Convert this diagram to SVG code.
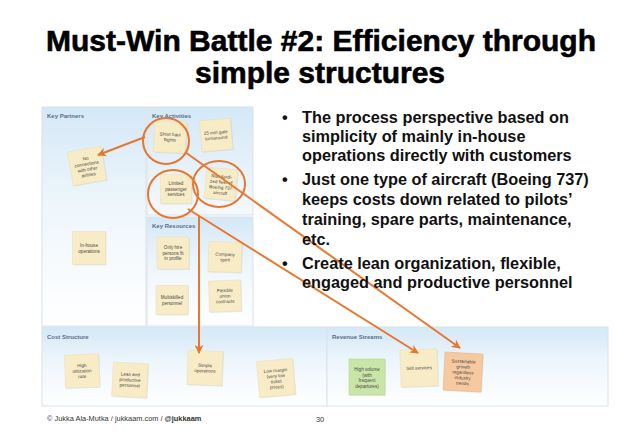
<svg xmlns="http://www.w3.org/2000/svg" width="638" height="442" viewBox="0 0 638 442">
<defs>
<linearGradient id="pg" x1="0" y1="0" x2="0" y2="1">
<stop offset="0" stop-color="#d4e8f6"/><stop offset="0.45" stop-color="#eef6fc"/><stop offset="1" stop-color="#ffffff"/>
</linearGradient>
<linearGradient id="pg2" x1="0" y1="0" x2="0" y2="1">
<stop offset="0" stop-color="#d4e8f6"/><stop offset="1" stop-color="#f4f9fd"/>
</linearGradient>
<marker id="ah" viewBox="0 0 10 10" refX="9" refY="5" markerWidth="9" markerHeight="9" markerUnits="userSpaceOnUse" orient="auto">
<path d="M0,0 L10,5 L0,10 L3,5 z" fill="#e8772e"/>
</marker>
<style>
.panel{stroke:#d9e2ea;stroke-width:1}
.ph{font-family:"Liberation Sans",Arial,sans-serif;font-size:6px;font-weight:bold;fill:#5b6f8c}
.note{fill:#f8ecc6;stroke:#ebdfb8;stroke-width:0.6}
.sh{fill:#000;opacity:0.07}
.nt{font-family:"Liberation Sans",Arial,sans-serif;font-size:4.6px;fill:#4a4a4a;text-anchor:middle}
.conn{stroke:#e8772e;stroke-width:2;fill:none}
.ring{stroke:#e8772e;stroke-width:2;fill:none}
.title{font-family:"Liberation Sans",Arial,sans-serif;font-size:30px;font-weight:bold;fill:#000;stroke:#000;stroke-width:0.6;text-anchor:middle}
.bl{font-family:"Liberation Sans",Arial,sans-serif;font-size:16.3px;font-weight:bold;fill:#111}
.ft{font-family:"Liberation Sans",Arial,sans-serif;font-size:7.4px;fill:#333}
</style>
</defs>
<rect width="638" height="442" fill="#ffffff"/>
<g id="title">
<text class="title" x="321" y="51" textLength="550" lengthAdjust="spacingAndGlyphs">Must-Win Battle #2: Efficiency through</text>
<text class="title" x="320" y="83">simple structures</text>
</g>
<g id="panels">
<g id="key-partners"><rect class="panel" x="42" y="107" width="104" height="219" fill="url(#pg)"/><text class="ph" x="47" y="118">Key Partners</text></g>
<g id="key-activities"><rect class="panel" x="147" y="107" width="106" height="108" fill="url(#pg2)"/><text class="ph" x="152" y="118">Key Activities</text></g>
<g id="key-resources"><rect class="panel" x="147" y="217" width="106" height="109" fill="url(#pg)"/><text class="ph" x="152" y="228">Key Resources</text></g>
<g id="cost-structure"><rect class="panel" x="42" y="327" width="285" height="79" fill="url(#pg)"/><text class="ph" x="47" y="339">Cost Structure</text></g>
<g id="revenue-streams"><rect class="panel" x="327" y="327" width="281" height="79" fill="url(#pg)"/><text class="ph" x="332" y="339">Revenue Streams</text></g>
</g>
<g id="notes">
<g id="n-noconn" transform="translate(87,166) rotate(-10)"><rect class="sh" x="-16" y="-16" width="34" height="34"/><rect class="note" x="-17" y="-17" width="34" height="34"/><text class="nt" y="-6">No</text><text class="nt" y="-0.5">connections</text><text class="nt" y="5">with other</text><text class="nt" y="10.5">airlines</text></g>
<g id="n-inhouse" transform="translate(89,248)"><rect class="sh" x="-15.5" y="-15.5" width="33" height="33"/><rect class="note" x="-16.5" y="-16.5" width="33" height="33"/><text class="nt" y="-1">In-house</text><text class="nt" y="4.5">operations</text></g>
<g id="n-shorthaul" transform="translate(170,137) rotate(3)"><rect class="sh" x="-15" y="-14.5" width="32" height="31"/><rect class="note" x="-16" y="-15.5" width="32" height="31"/><text class="nt" y="-1">Short haul</text><text class="nt" y="4.5">flights</text></g>
<g id="n-gate" transform="translate(216,135) rotate(-5)"><rect class="sh" x="-14.5" y="-14.5" width="31" height="31"/><rect class="note" x="-15.5" y="-15.5" width="31" height="31"/><text class="nt" y="-1">25 min gate</text><text class="nt" y="4.5">turnaround</text></g>
<g id="n-fleet" transform="translate(221,184) rotate(5)"><rect class="sh" x="-14.5" y="-14.5" width="31" height="31"/><rect class="note" x="-15.5" y="-15.5" width="31" height="31"/><text class="nt" y="-6">Standardi-</text><text class="nt" y="-0.5">zed fleet of</text><text class="nt" y="5">Boeing 737</text><text class="nt" y="10.5">aircraft</text></g>
<g id="n-limited" transform="translate(176,189)"><rect class="sh" x="-14.5" y="-13.5" width="31" height="29"/><rect class="note" x="-15.5" y="-14.5" width="31" height="29"/><text class="nt" y="-4">Limited</text><text class="nt" y="1.5">passenger</text><text class="nt" y="7">services</text></g>
<g id="n-hire" transform="translate(173,253)"><rect class="sh" x="-15" y="-15" width="32" height="32"/><rect class="note" x="-16" y="-16" width="32" height="32"/><text class="nt" y="-4">Only hire</text><text class="nt" y="1.5">persons fit</text><text class="nt" y="7">in profile</text></g>
<g id="n-spirit" transform="translate(225,257) rotate(2)"><rect class="sh" x="-15.5" y="-14" width="33" height="30"/><rect class="note" x="-16.5" y="-15" width="33" height="30"/><text class="nt" y="-1">Company</text><text class="nt" y="4.5">spirit</text></g>
<g id="n-multi" transform="translate(172,300)"><rect class="sh" x="-15" y="-13.5" width="32" height="29"/><rect class="note" x="-16" y="-14.5" width="32" height="29"/><text class="nt" y="-1">Multiskilled</text><text class="nt" y="4.5">personnel</text></g>
<g id="n-union" transform="translate(225,296) rotate(-2)"><rect class="sh" x="-15" y="-14.5" width="32" height="31"/><rect class="note" x="-16" y="-15.5" width="32" height="31"/><text class="nt" y="-4">Flexible</text><text class="nt" y="1.5">union</text><text class="nt" y="7">contracts</text></g>
<g id="n-util" transform="translate(82,371) rotate(-2)"><rect class="sh" x="-16" y="-15.5" width="34" height="33"/><rect class="note" x="-17" y="-16.5" width="34" height="33"/><text class="nt" y="-4">High</text><text class="nt" y="1.5">utilization</text><text class="nt" y="7">rate</text></g>
<g id="n-lean" transform="translate(130,380) rotate(3)"><rect class="sh" x="-16.5" y="-16" width="35" height="34"/><rect class="note" x="-17.5" y="-17" width="35" height="34"/><text class="nt" y="-4">Lean and</text><text class="nt" y="1.5">productive</text><text class="nt" y="7">personnel</text></g>
<g id="n-simple" transform="translate(205,368) rotate(2)"><rect class="sh" x="-16.5" y="-16" width="35" height="34"/><rect class="note" x="-17.5" y="-17" width="35" height="34"/><text class="nt" y="-1">Simple</text><text class="nt" y="4.5">operations</text></g>
<g id="n-margin" transform="translate(276,378) rotate(-5)"><rect class="sh" x="-17" y="-17" width="36" height="36"/><rect class="note" x="-18" y="-18" width="36" height="36"/><text class="nt" y="-6">Low margin</text><text class="nt" y="-0.5">(very low</text><text class="nt" y="5">ticket</text><text class="nt" y="10.5">prices)</text></g>
<g id="n-volume" transform="translate(367,377)"><rect class="sh" x="-17" y="-17" width="36" height="36"/><rect x="-18" y="-18" width="36" height="36" fill="#c9e6a8" stroke="#b5d695" stroke-width="0.6"/><text class="nt" y="-6">High volume</text><text class="nt" y="-0.5">(with</text><text class="nt" y="5">frequent</text><text class="nt" y="10.5">departures)</text></g>
<g id="n-sell" transform="translate(419,368) rotate(-2)"><rect class="sh" x="-17.5" y="-17.5" width="37" height="37"/><rect class="note" x="-18.5" y="-18.5" width="37" height="37"/><text class="nt" y="1.5">Sell services</text></g>
<g id="n-growth" transform="translate(463,372) rotate(3)"><rect class="sh" x="-18" y="-18" width="38" height="38"/><rect x="-19" y="-19" width="38" height="38" fill="#f7c9a0" stroke="#eab48a" stroke-width="0.6"/><text class="nt" y="-9">Sustainable</text><text class="nt" y="-3.5">growth</text><text class="nt" y="2">regardless</text><text class="nt" y="7.5">industry</text><text class="nt" y="13">trends</text></g>
</g>
<g id="highlights">
<ellipse id="ring-shorthaul" class="ring" cx="166" cy="141" rx="23" ry="23"/>
<ellipse id="ring-fleet" class="ring" cx="219" cy="184" rx="26" ry="23"/>
<ellipse id="ring-limited" class="ring" cx="173" cy="194" rx="25" ry="24"/>
</g>
<g id="connectors">
<line class="conn" x1="145" y1="137" x2="98" y2="155" marker-end="url(#ah)"/>
<line class="conn" x1="185" y1="152" x2="460" y2="348" marker-end="url(#ah)"/>
<line class="conn" x1="188" y1="209" x2="418" y2="353" marker-end="url(#ah)"/>
<line class="conn" x1="199" y1="216" x2="199" y2="353" marker-end="url(#ah)"/>
</g>
<g id="bullets">
<text class="bl" x="282" y="123">•</text>
<text class="bl" x="302" y="123">The process perspective based on</text>
<text class="bl" x="302" y="142">simplicity of mainly in-house</text>
<text class="bl" x="302" y="161">operations directly with customers</text>
<text class="bl" x="282" y="185">•</text>
<text class="bl" x="302" y="185">Just one type of aircraft (Boeing 737)</text>
<text class="bl" x="302" y="205">keeps costs down related to pilots’</text>
<text class="bl" x="302" y="225">training, spare parts, maintenance,</text>
<text class="bl" x="302" y="245">etc.</text>
<text class="bl" x="282" y="269">•</text>
<text class="bl" x="302" y="269">Create lean organization, flexible,</text>
<text class="bl" x="302" y="288">engaged and productive personnel</text>
</g>
<g id="footer">
<text class="ft" x="47" y="421">© Jukka Ala-Mutka / jukkaam.com / <tspan font-weight="bold">@jukkaam</tspan></text>
<text class="ft" x="320" y="422" font-size="10" text-anchor="middle">30</text>
</g>
</svg>
